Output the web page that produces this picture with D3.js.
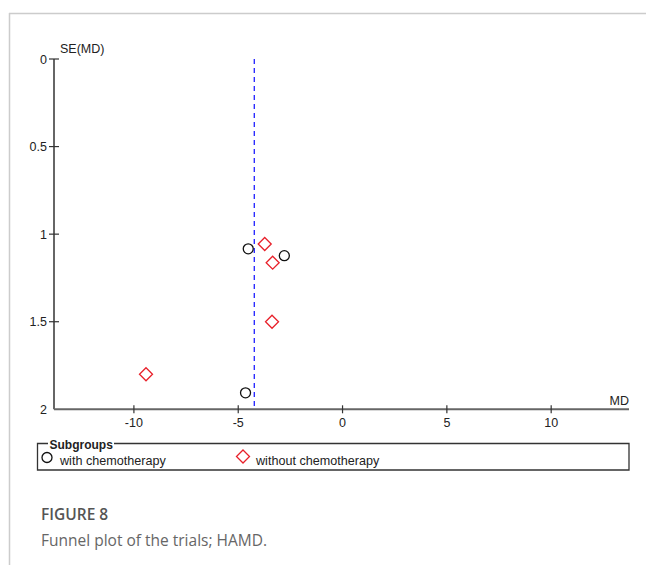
<!DOCTYPE html>
<html><head><meta charset="utf-8">
<script src="https://cdn.jsdelivr.net/npm/d3@7"></script>
<style>body{margin:0;background:#fff;}svg{display:block;font-family:"Liberation Sans",Arial,sans-serif;}</style>
</head><body>
<svg id="c" width="646" height="565"></svg>
<script>
const withChemoMD = [-4.52, -2.79, -4.65];
const withChemoSE = [1.084, 1.123, 1.906];
const withoutChemoMD = [-3.73, -3.35, -3.38, -9.42];
const withoutChemoSE = [1.056, 1.163, 1.50, 1.80];
const pooledMD = -4.23;
const xTicks = [-10, -5, 0, 5, 10];
const yTicks = [0, 0.5, 1, 1.5, 2];
const legendLabels = ["with chemotherapy", "without chemotherapy"];

const svg = d3.select("#c");
const axisColor = "#666";
// frame
svg.append("line").attr("x1",9).attr("x2",646).attr("y1",13.5).attr("y2",13.5).attr("stroke","#ccc").attr("stroke-width",1.5);
svg.append("line").attr("x1",9.5).attr("x2",9.5).attr("y1",13).attr("y2",565).attr("stroke","#ccc").attr("stroke-width",1.5);

const x = d3.scaleLinear().domain([-13.83, 13.73]).range([54, 629]);
const y = d3.scaleLinear().domain([0, 2]).range([59, 409.3]);

// y axis
svg.append("line").attr("x1",54).attr("x2",54).attr("y1",y(0)).attr("y2",y(2)).attr("stroke",axisColor).attr("stroke-width",2);
yTicks.forEach(t=>{
  if (t!==2) svg.append("line").attr("x1",49).attr("x2",59).attr("y1",y(t)).attr("y2",y(t)).attr("stroke","#333").attr("stroke-width",1.2);
  svg.append("text").attr("x",47).attr("y",y(t)+4.5).attr("text-anchor","end").attr("font-size",12.5).attr("fill","#222").text(t);
});
svg.append("text").attr("x",60).attr("y",y(0)-6).attr("font-size",12.5).attr("fill","#222").text("SE(MD)");
// x axis
svg.append("line").attr("x1",54).attr("x2",629).attr("y1",y(2)).attr("y2",y(2)).attr("stroke",axisColor).attr("stroke-width",2);
xTicks.forEach(t=>{
  svg.append("line").attr("x1",x(t)).attr("x2",x(t)).attr("y1",y(2)-4).attr("y2",y(2)+4).attr("stroke","#333").attr("stroke-width",1.2);
  svg.append("text").attr("x",x(t)).attr("y",y(2)+18).attr("text-anchor","middle").attr("font-size",12.5).attr("fill","#222").text(t);
});
svg.append("text").attr("x",629).attr("y",y(2)-4).attr("text-anchor","end").attr("font-size",12.5).attr("fill","#222").text("MD");

// pooled line
svg.append("line").attr("x1",x(pooledMD)).attr("x2",x(pooledMD)).attr("y1",y(0)).attr("y2",y(2))
  .attr("stroke","#1f1fff").attr("stroke-width",1.3).attr("stroke-dasharray","5,4");

// points
withChemoMD.forEach((m,i)=>{
  svg.append("circle").attr("cx",x(m)).attr("cy",y(withChemoSE[i])).attr("r",5).attr("fill","none").attr("stroke","#111").attr("stroke-width",1.3);
});
const diamond = (cx,cy,s)=>`M${cx},${cy-s}L${cx+s},${cy}L${cx},${cy+s}L${cx-s},${cy}Z`;
withoutChemoMD.forEach((m,i)=>{
  svg.append("path").attr("d",diamond(x(m),y(withoutChemoSE[i]),6.5)).attr("fill","none").attr("stroke","#e8202a").attr("stroke-width",1.3);
});

// legend box
const lx0=37.5, lx1=629, ly0=443.5, ly1=470;
svg.append("path").attr("d",`M48,${ly0}H${lx0}V${ly1}H${lx1}V${ly0}H114`).attr("fill","none").attr("stroke","#333").attr("stroke-width",1.3);
svg.append("text").attr("x",49.5).attr("y",449).attr("font-size",12).attr("font-weight","bold").attr("fill","#222").text("Subgroups");
svg.append("circle").attr("cx",47).attr("cy",457.5).attr("r",5).attr("fill","none").attr("stroke","#111").attr("stroke-width",1.3);
svg.append("text").attr("x",60).attr("y",465).attr("font-size",12.6).attr("fill","#222").text(legendLabels[0]);
svg.append("path").attr("d",diamond(243,456.5,6.5)).attr("fill","none").attr("stroke","#e8202a").attr("stroke-width",1.3);
svg.append("text").attr("x",256).attr("y",465).attr("font-size",12.6).attr("fill","#222").text(legendLabels[1]);

// caption
svg.append("text").attr("x",41).attr("y",520).attr("font-family","'Open Sans',sans-serif").attr("font-size",15.5).attr("font-weight","600").attr("fill","#555").text("FIGURE 8");
svg.append("text").attr("x",41).attr("y",546).attr("font-family","'Open Sans',sans-serif").attr("font-size",15.5).attr("fill","#666").text("Funnel plot of the trials; HAMD.");
</script>
</body></html>
